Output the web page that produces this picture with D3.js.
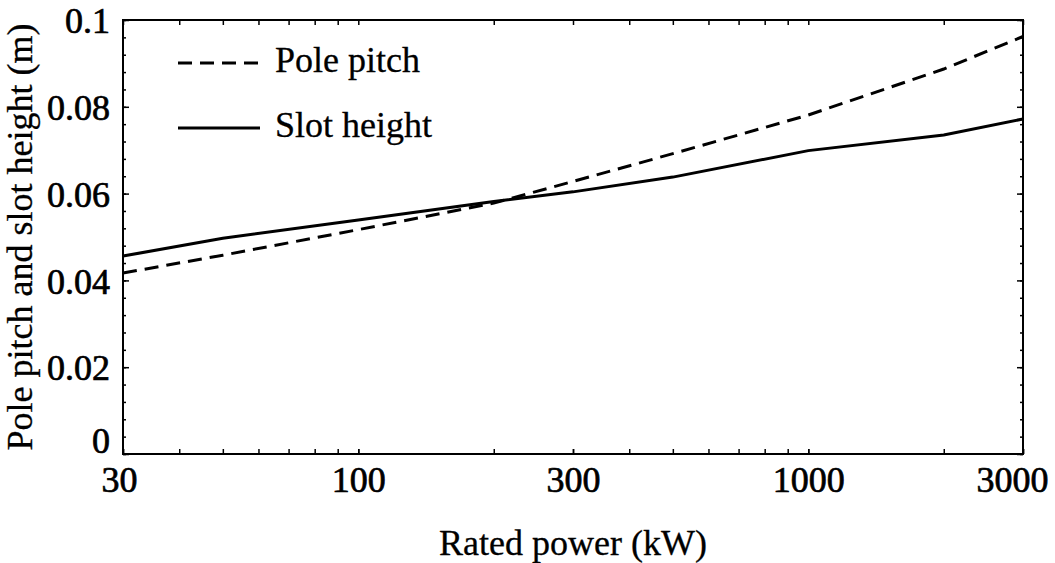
<!DOCTYPE html>
<html>
<head>
<meta charset="utf-8">
<script src="https://cdn.jsdelivr.net/npm/d3@7"></script>
<style>
  body { margin: 0; background: #fff; }
  svg { display: block; font-family: "Liberation Serif", serif; }
</style>
</head>
<body>
<div id="container"></div>
<script>
// Data
const power = [30, 50, 100, 200, 300, 500, 1000, 2000, 3000];
const polePitch = [0.0417, 0.0458, 0.0517, 0.0578, 0.0628, 0.0692, 0.0781, 0.0887, 0.0962];
const slotHeight = [0.0456, 0.0497, 0.0539, 0.0582, 0.0604, 0.0638, 0.0699, 0.0735, 0.0772];

const xMajor = [30, 100, 300, 1000, 3000];
const xMinor = [40, 50, 60, 70, 80, 90, 200, 400, 500, 600, 700, 800, 900, 2000];
const yMajor = [0, 0.02, 0.04, 0.06, 0.08, 0.1];
const yMinor = d3.range(0, 26).map((i) => +(i * 0.004).toFixed(3));

const seriesNames = ["Pole pitch", "Slot height"];

const width = 1055;
const height = 563;
const margin = { top: 20, right: 32, bottom: 109, left: 123 };

const x = d3.scaleLog().domain([30, 3000]).range([margin.left, width - margin.right]);
const y = d3.scaleLinear().domain([0, 0.1]).range([height - margin.bottom, margin.top]);

const svg = d3.create("svg").attr("width", width).attr("height", height);

const x0 = x.range()[0], x1 = x.range()[1];
const y0 = y.range()[0], y1 = y.range()[1];

// ticks, all pointing inward
function tickAxis(axis, transform, size, values, labels) {
  const g = svg.append("g")
    .attr("transform", transform)
    .call(axis.tickValues(values).tickSize(size).tickSizeOuter(0)
      .tickFormat(labels ? labels : () => ""));
  g.select(".domain").remove();
  g.selectAll(".tick line").attr("stroke", "#000").attr("stroke-width", 1.5);
  return g;
}

const xTicks = xMajor.concat(xMinor);
tickAxis(d3.axisBottom(x), `translate(0,${y0})`, -5, xTicks);
tickAxis(d3.axisTop(x), `translate(0,${y1})`, -5, xTicks);
tickAxis(d3.axisLeft(y), `translate(${x0},0)`, -3, yMinor);
tickAxis(d3.axisRight(y), `translate(${x1},0)`, -3, yMinor);
tickAxis(d3.axisRight(y), `translate(${x1},0)`, -6, yMajor);

// labelled axes (slightly heavy digits, like the original)
function styleLabels(sel) {
  sel.attr("font-size", 36).attr("fill", "#000")
    .attr("font-family", "Liberation Serif")
    .attr("stroke", "#000").attr("stroke-width", 0.7);
}

const xLab = tickAxis(d3.axisBottom(x).tickPadding(12), `translate(0,${y0})`, -5, xMajor, (d) => String(d));
xLab.selectAll("text").call(styleLabels)
  .attr("dx", (d) => (d === 30 ? -4 : d === 3000 ? -11 : 0));

const yLab = tickAxis(d3.axisLeft(y).tickPadding(13), `translate(${x0},0)`, -6, yMajor, (d) => (d === 0 ? "0" : d3.format(".2~f")(d)));
yLab.selectAll("text").call(styleLabels)
  .attr("dy", (d) => (d === 0 ? "-0.05em" : "0.35em"));

// frame
svg.append("rect")
  .attr("x", x0).attr("y", y1)
  .attr("width", x1 - x0).attr("height", y0 - y1)
  .attr("fill", "none").attr("stroke", "#000").attr("stroke-width", 2);

// lines
const line = d3.line().x((d) => x(d[0])).y((d) => y(d[1]));

svg.append("path")
  .datum(power.map((p, i) => [p, polePitch[i]]))
  .attr("d", line)
  .attr("fill", "none").attr("stroke", "#000").attr("stroke-width", 3)
  .attr("stroke-dasharray", "14,8");

svg.append("path")
  .datum(power.map((p, i) => [p, slotHeight[i]]))
  .attr("d", line)
  .attr("fill", "none").attr("stroke", "#000").attr("stroke-width", 3);

// legend
const legend = svg.append("g");
[63, 128].forEach((ly, i) => {
  legend.append("line")
    .attr("x1", 178).attr("x2", 260).attr("y1", ly).attr("y2", ly)
    .attr("stroke", "#000").attr("stroke-width", 3)
    .attr("stroke-dasharray", i === 0 ? "14,8" : null);
  legend.append("text")
    .attr("x", 275).attr("y", ly + 9)
    .attr("font-size", 36)
    .attr("stroke", "#000").attr("stroke-width", 0.3)
    .text(seriesNames[i]);
});

// axis titles
svg.append("text")
  .attr("x", (x0 + x1) / 2).attr("y", 555)
  .attr("text-anchor", "middle").attr("font-size", 36)
  .attr("stroke", "#000").attr("stroke-width", 0.3)
  .text("Rated power (kW)");

svg.append("text")
  .attr("transform", `translate(32,${(y0 + y1) / 2}) rotate(-90)`)
  .attr("text-anchor", "middle").attr("font-size", 36)
  .attr("stroke", "#000").attr("stroke-width", 0.3)
  .text("Pole pitch and slot height (m)");

document.getElementById("container").append(svg.node());
</script>
</body>
</html>
